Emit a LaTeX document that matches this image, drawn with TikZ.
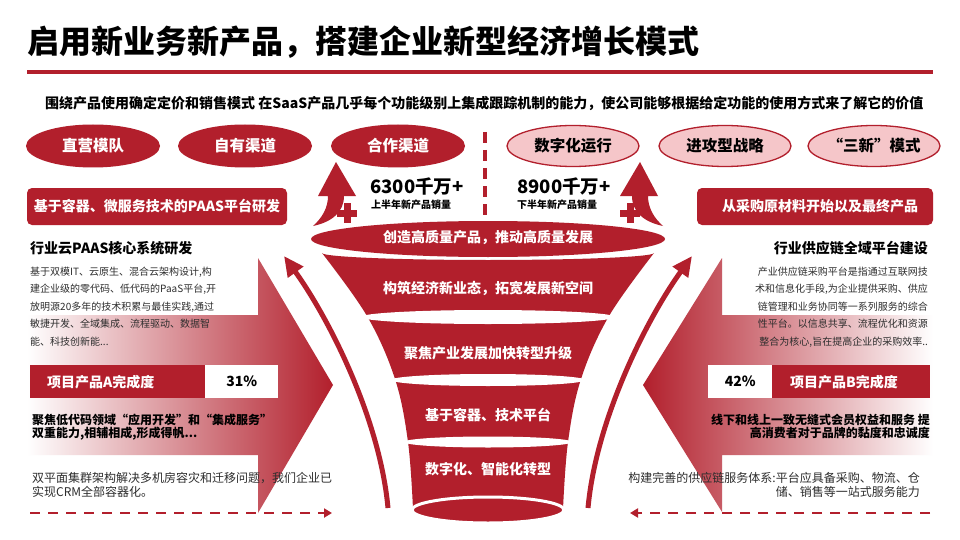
\documentclass[tikz,border=0pt]{standalone}
\usepackage{fontspec}
\setmainfont{Noto Sans CJK SC}
\usetikzlibrary{shapes.geometric,arrows.meta}
\definecolor{mred}{RGB}{178,31,44}
\definecolor{lpink}{RGB}{245,198,201}
\definecolor{txtc}{RGB}{45,45,45}
\begin{document}
\begin{tikzpicture}[x=1pt,y=-1pt,
  ovalR/.style={ellipse, fill=mred, minimum width=134pt, minimum height=43pt, inner sep=0pt, text=white, font=\bfseries\fontsize{15.5}{18}\selectfont},
  ovalP/.style={ellipse, fill=lpink, draw=mred, line width=1.3pt, minimum width=132pt, minimum height=41pt, inner sep=0pt, text=black, font=\bfseries\fontsize{15.5}{18}\selectfont},
  rbox/.style={fill=mred, rounded corners=5pt, minimum height=37pt, inner sep=0pt, text=white, font=\bfseries\fontsize{14}{16}\selectfont},
  ftext/.style={text=white, inner sep=0pt, font=\bfseries\fontsize{14}{16}\selectfont},
  bignum/.style={anchor=west, inner sep=0pt, font=\bfseries\fontsize{18.5}{20}\selectfont},
  smallb/.style={anchor=west, inner sep=0pt, font=\bfseries\fontsize{10}{12}\selectfont},
  heading/.style={inner sep=0pt, font=\bfseries\fontsize{14}{16}\selectfont},
  para/.style={inner sep=0pt, text=txtc, font=\fontsize{10}{17.6}\selectfont},
  boldp/.style={inner sep=0pt, font=\bfseries\fontsize{12}{13}\selectfont},
  plainp/.style={inner sep=0pt, text=txtc, font=\fontsize{12}{14}\selectfont},
  barR/.style={fill=mred, minimum height=33pt, inner sep=0pt},
  barW/.style={fill=white, minimum height=33pt, inner sep=0pt, font=\bfseries\fontsize{14}{16}\selectfont},
  bartext/.style={text=white, inner sep=0pt, font=\bfseries\fontsize{14}{16}\selectfont},
  thinarrow/.style={draw=mred, line width=5pt, -{Triangle[length=20pt,width=18pt]}},
  dasharrow/.style={draw=mred, line width=2.5pt, dash pattern=on 10pt off 8pt, -{Triangle[length=8pt,width=9pt]}}
]
\useasboundingbox (0,0) rectangle (960,540);
\fill[white] (0,0) rectangle (960,540);

% title
\node[anchor=west, inner sep=0pt, font=\bfseries\fontsize{32}{36}\selectfont] (title) at (27,42) {启用新业务新产品，搭建企业新型经济增长模式};
\coordinate (lineL) at (27,72);
\coordinate (lineR) at (933,72);
\draw[mred, line width=3.3pt] (lineL) -- (lineR);
\node[anchor=west, inner sep=0pt, font=\bfseries\fontsize{14}{16}\selectfont] (sub) at (45,103) {围绕产品使用确定定价和销售模式 在SaaS产品几乎每个功能级别上集成跟踪机制的能力，使公司能够根据给定功能的使用方式来了解它的价值};

% gradient block arrows
\shade[left color=white, middle color=mred!30, right color=mred]
  (27,315) -- (258,315) -- (258,258) -- (333,385) -- (258,513) -- (258,455) -- (27,455) -- cycle;
\shade[left color=mred, middle color=mred!30, right color=white]
  (933,315) -- (722,315) -- (722,258) -- (643,385) -- (722,512) -- (722,455) -- (933,455) -- cycle;

% thin curved arrows
\coordinate (taL) at (388,508);
\coordinate (tbL) at (284,256);
\coordinate (taR) at (588,508);
\coordinate (tbR) at (692,256);
\draw[thinarrow] (taL) .. controls (380,420) and (330,320) .. (tbL);
\draw[thinarrow] (taR) .. controls (596,420) and (646,320) .. (tbR);

% funnel body
\fill[mred] plot[smooth, tension=0.6] coordinates {(322,253) (367,316) (395,379) (408,442) (413,509)}
  -- plot[smooth, tension=0.6] coordinates {(563,509) (568,442) (581,379) (609,316) (654,253)}
  arc[start angle=0, end angle=180, x radius=166, y radius=7] -- cycle;
\fill[white] (488,317) ellipse[x radius=127, y radius=7];
\fill[white] (488,380) ellipse[x radius=97, y radius=6];
\fill[white] (488,442) ellipse[x radius=84, y radius=5.5];
\filldraw[fill=mred, draw=white, line width=3pt] (488,510) ellipse[x radius=76, y radius=13];
\fill[mred] (488,239) ellipse[x radius=177, y radius=18];

\node[ftext] (f1) at (488,238) {创造高质量产品，推动高质量发展};
\node[ftext] (f2) at (488,289) {构筑经济新业态，拓宽发展新空间};
\node[ftext] (f3) at (488,353) {聚焦产业发展加快转型升级};
\node[ftext] (f4) at (488,415) {基于容器、技术平台};
\node[ftext] (f5) at (488,469) {数字化、智能化转型};

% swoosh arrows and plus signs
\fill[mred] (336,162) -- (356,196) -- (344,196) .. controls (344,212) and (332,222) .. (313,226)
  .. controls (322,218) and (328,208) .. (328,196) -- (318,196) -- cycle;
\fill[mred] (640,162) -- (620,196) -- (632,196) .. controls (632,212) and (644,222) .. (663,226)
  .. controls (654,218) and (648,208) .. (648,196) -- (658,196) -- cycle;
\fill[mred] (337,209.5) rectangle (357,216.5);
\fill[mred] (343.5,203) rectangle (350.5,223);
\fill[mred] (620,209.5) rectangle (640,216.5);
\fill[mred] (626.5,203) rectangle (633.5,223);

% dashed vertical divider
\coordinate (dvT) at (485,132);
\coordinate (dvB) at (485,215);
\draw[mred, line width=4pt, dash pattern=on 11pt off 7pt] (dvT) -- (dvB);

% numbers
\node[bignum] (n1) at (370,186) {6300千万+};
\node[smallb] (n1s) at (371,205) {上半年新产品销量};
\node[bignum] (n2) at (517,186) {8900千万+};
\node[smallb] (n2s) at (517,205) {下半年新产品销量};

% ovals
\node[ovalR] (o1) at (93,146) {直营模队};
\node[ovalR] (o2) at (245,146) {自有渠道};
\node[ovalR] (o3) at (398,146) {合作渠道};
\node[ovalP] (o4) at (573,146) {数字化运行};
\node[ovalP] (o5) at (725,146) {进攻型战略};
\node[ovalP] (o6) at (874,146) {“三新”模式};

% red boxes
\node[rbox, minimum width=260pt] (b1) at (157,206.5) {基于容器、微服务技术的PAAS平台研发};
\node[rbox, minimum width=236pt] (b2) at (815,206.5) {\hspace{10pt}从采购原材料开始以及最终产品};

% left texts
\node[heading, anchor=west] (hL) at (30,248) {行业云PAAS核心系统研发};
\node[para, anchor=north west, align=left] (pL) at (30,266.5) {基于双模IT、云原生、混合云架构设计,构\\建企业级的零代码、低代码的PaaS平台,开\\放明源20多年的技术积累与最佳实践,通过\\敏捷开发、全域集成、流程驱动、数据智\\能、科技创新能...};
\node[barR, minimum width=175pt, anchor=north west] (barA) at (30,365) {};
\node[barW, minimum width=73pt, anchor=north west] (pctA) at (205,365) {31\%};
\node[bartext, anchor=west] (barAt) at ([xshift=17pt]barA.west) {项目产品A完成度};
\node[boldp, anchor=north west, align=left] (bL) at (32,414) {聚焦低代码领域“应用开发”和“集成服务”\\双重能力,相辅相成,形成得帆...};
\node[plainp, anchor=north west, align=left] (qL) at (32,472) {双平面集群架构解决多机房容灾和迁移问题，我们企业已\\实现CRM全部容器化。};

% right texts
\node[heading, anchor=east] (hR) at (928,248) {行业供应链全域平台建设};
\node[para, anchor=north east, align=right] (pR) at (928,266.5) {产业供应链采购平台是指通过互联网技\\术和信息化手段,为企业提供采购、供应\\链管理和业务协同等一系列服务的综合\\性平台。以信息共享、流程优化和资源\\整合为核心,旨在提高企业的采购效率..};
\node[barW, minimum width=64pt, anchor=north west] (pctB) at (708,365) {42\%};
\node[barR, minimum width=158pt, anchor=north west] (barB) at (772,365) {};
\node[bartext, anchor=west] (barBt) at ([xshift=18pt]barB.west) {项目产品B完成度};
\node[boldp, anchor=north east, align=right] (bR) at (930,414) {线下和线上一致无缝式会员权益和服务 提\\高消费者对于品牌的黏度和忠诚度};
\node[plainp, anchor=north east, align=right] (qR) at (920,472) {构建完善的供应链服务体系:平台应具备采购、物流、仓\\储、销售等一站式服务能力};

% dashed arrows
\coordinate (dLa) at (30,513);
\coordinate (dLb) at (332,513);
\coordinate (dRa) at (930,513);
\coordinate (dRb) at (630,513);
\draw[dasharrow] (dLa) -- (dLb);
\draw[dasharrow] (dRa) -- (dRb);
\end{tikzpicture}
\end{document}
